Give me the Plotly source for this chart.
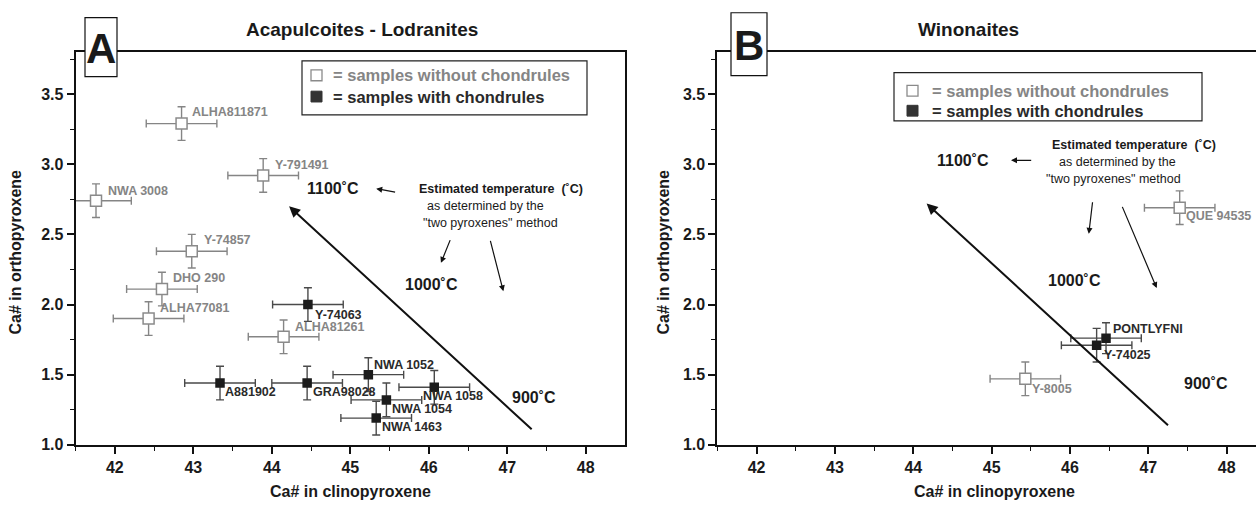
import plotly.graph_objects as go

W, H = 1256, 513

# ---------------- data ----------------
# Panel A: Acapulcoites - Lodranites
a_open_names = ["ALHA811871", "Y-791491", "NWA 3008", "Y-74857", "DHO 290", "ALHA77081", "ALHA81261"]
a_open_x = [42.85, 43.89, 41.76, 42.98, 42.60, 42.43, 44.15]
a_open_y = [3.29, 2.92, 2.74, 2.38, 2.11, 1.90, 1.77]
a_open_ex = [0.45, 0.45, 0.45, 0.45, 0.45, 0.45, 0.45]
a_open_ey = [0.12, 0.12, 0.12, 0.12, 0.12, 0.12, 0.12]

a_fill_names = ["Y-74063", "A881902", "GRA98028", "NWA 1052", "NWA 1058", "NWA 1054", "NWA 1463"]
a_fill_x = [44.46, 43.34, 44.45, 45.23, 46.07, 45.46, 45.33]
a_fill_y = [2.00, 1.44, 1.44, 1.50, 1.41, 1.32, 1.19]
a_fill_ex = [0.45, 0.45, 0.45, 0.45, 0.45, 0.45, 0.45]
a_fill_ey = [0.12, 0.12, 0.12, 0.12, 0.12, 0.12, 0.12]

# Panel B: Winonaites
b_open_names = ["QUE 94535", "Y-8005"]
b_open_x = [47.40, 45.43]
b_open_y = [2.69, 1.47]
b_open_ex = [0.45, 0.45]
b_open_ey = [0.12, 0.12]

b_fill_names = ["PONTLYFNI", "Y-74025"]
b_fill_x = [46.46, 46.34]
b_fill_y = [1.76, 1.71]
b_fill_ex = [0.45, 0.45]
b_fill_ey = [0.11, 0.12]

# isotherm lines (end, arrow tip)
a_line_x = [47.33, 44.22]
a_line_y = [1.10, 2.70]
b_line_x = [47.27, 44.17]
b_line_y = [1.13, 2.72]

x_ticks = [42, 43, 44, 45, 46, 47, 48]
y_ticks = [1.0, 1.5, 2.0, 2.5, 3.0, 3.5]

# ---------------- styles ----------------
FONT = "Liberation Sans, Arial, sans-serif"
GRAY_TXT = "#858585"
DARK_TXT = "#2a2a2a"
OPEN_EB = "#858585"
FILL_EB = "#4a4a4a"

# label offsets in px (dx right, dy down) relative to the point
label_off = {
    "ALHA811871": (8, -12), "Y-791491": (10, -10), "NWA 3008": (10, -10),
    "Y-74857": (10, -11), "DHO 290": (9, -11), "ALHA77081": (9, -11),
    "ALHA81261": (9, -10), "Y-74063": (5, 10), "A881902": (3, 9),
    "GRA98028": (4, 9), "NWA 1052": (4, -10), "NWA 1058": (-13, 9),
    "NWA 1054": (4, 9), "NWA 1463": (4, 9),
    "QUE 94535": (4, 8), "Y-8005": (5, 10), "PONTLYFNI": (5, -9), "Y-74025": (5, 10),
}


def px(x):
    return x / W


def py(y):
    return 1 - y / H


fig = go.Figure()


def add_pts(xs, ys, ex, ey, filled, xa, ya):
    fig.add_trace(go.Scatter(
        x=xs, y=ys, mode="markers", xaxis=xa, yaxis=ya, showlegend=False,
        marker=dict(symbol="square", size=8 if filled else 11,
                    color="#1c1c1c" if filled else "white",
                    line=dict(color="#1c1c1c" if filled else "#8a8a8a", width=1.5)),
        error_x=dict(type="data", array=ex, visible=True, color=FILL_EB if filled else OPEN_EB,
                     thickness=1.4, width=4),
        error_y=dict(type="data", array=ey, visible=True, color=FILL_EB if filled else OPEN_EB,
                     thickness=1.4, width=4),
    ))


add_pts(a_open_x, a_open_y, a_open_ex, a_open_ey, False, "x", "y")
add_pts(a_fill_x, a_fill_y, a_fill_ex, a_fill_ey, True, "x", "y")
add_pts(b_open_x, b_open_y, b_open_ex, b_open_ey, False, "x2", "y2")
add_pts(b_fill_x, b_fill_y, b_fill_ex, b_fill_ey, True, "x2", "y2")

ann = []


def labels(names, xs, ys, color, xr, yr):
    for n, x, y in zip(names, xs, ys):
        dx, dy = label_off[n]
        ann.append(dict(x=x, y=y, xref=xr, yref=yr, text=n, showarrow=False,
                        xanchor="left", yanchor="middle", xshift=dx, yshift=-dy,
                        font=dict(family=FONT, size=12.5, color=color, weight="bold")))


labels(a_open_names, a_open_x, a_open_y, GRAY_TXT, "x", "y")
labels(a_fill_names, a_fill_x, a_fill_y, DARK_TXT, "x", "y")
labels(b_open_names, b_open_x, b_open_y, GRAY_TXT, "x2", "y2")
labels(b_fill_names, b_fill_x, b_fill_y, DARK_TXT, "x2", "y2")

# isotherm arrows
for lx, ly, xr, yr in [(a_line_x, a_line_y, "x", "y"), (b_line_x, b_line_y, "x2", "y2")]:
    ann.append(dict(x=lx[1], y=ly[1], ax=lx[0], ay=ly[0], xref=xr, yref=yr, axref=xr, ayref=yr,
                    text="", showarrow=True, arrowhead=2, arrowsize=1.1, arrowwidth=2,
                    arrowcolor="#111", standoff=0))


def txt(x, y, s, xr, yr, size=15, bold=True, anchor="center", color="#1a1a1a"):
    ann.append(dict(x=x, y=y, xref=xr, yref=yr, text=s, showarrow=False, xanchor=anchor,
                    yanchor="middle",
                    font=dict(family=FONT, size=size, color=color, weight="bold" if bold else "normal")))


def arrow(x0, y0, x1, y1, xr, yr):
    ann.append(dict(x=x1, y=y1, ax=x0, ay=y0, xref=xr, yref=yr, axref=xr, ayref=yr,
                    text="", showarrow=True, arrowhead=2, arrowsize=1, arrowwidth=1.2,
                    arrowcolor="#111", standoff=0))


# Panel A temperature annotations
txt(44.78, 2.83, "1100˚C", "x", "y", size=16)
txt(46.04, 2.14, "1000˚C", "x", "y", size=16)
txt(47.34, 1.34, "900˚C", "x", "y", size=16)
txt(45.85, 2.826, "Estimated temperature  (˚C)", "x", "y", size=12.5, anchor="left")
txt(45.95, 2.70, "as determined by the", "x", "y", size=12.5, bold=False, anchor="left")
txt(45.90, 2.58, "\"two pyroxenes\" method", "x", "y", size=12.5, bold=False, anchor="left")
arrow(45.59, 2.80, 45.33, 2.826, "x", "y")
arrow(46.28, 2.47, 46.155, 2.297, "x", "y")
arrow(46.78, 2.464, 46.95, 2.094, "x", "y")

# Panel B temperature annotations
txt(44.64, 3.03, "1100˚C", "x2", "y2", size=16)
txt(46.06, 2.17, "1000˚C", "x2", "y2", size=16)
txt(47.74, 1.44, "900˚C", "x2", "y2", size=16)
txt(45.745, 3.137, "Estimated temperature  (˚C)", "x2", "y2", size=12.5, anchor="left")
txt(45.835, 3.016, "as determined by the", "x2", "y2", size=12.5, bold=False, anchor="left")
txt(45.668, 2.897, "\"two pyroxenes\" method", "x2", "y2", size=12.5, bold=False, anchor="left")
arrow(45.524, 3.028, 45.247, 3.028, "x2", "y2")
arrow(46.29, 2.74, 46.24, 2.504, "x2", "y2")
arrow(46.66, 2.707, 47.107, 2.117, "x2", "y2")

# Titles, axis titles
txt(px(362), py(30), "Acapulcoites - Lodranites", "paper", "paper", size=19)
txt(px(968), py(30), "Winonaites", "paper", "paper", size=19)
for cx in (350, 994):
    txt(px(cx), py(500), "Ca# in clinopyroxene", "paper", "paper", size=16)
for cx in (15, 663):
    ann.append(dict(x=px(cx), y=py(257), xref="paper", yref="paper", text="Ca# in orthopyroxene",
                    showarrow=False, textangle=-90, xanchor="center", yanchor="middle",
                    font=dict(family=FONT, size=16, color="#1a1a1a", weight="bold")))

shapes = []
# panel letter boxes
for (x0, x1, y0, y1, letter) in [(85, 117, 18, 78, "A"), (731, 767, 13, 77, "B")]:
    shapes.append(dict(type="rect", xref="paper", yref="paper", x0=px(x0), x1=px(x1), y0=py(y1), y1=py(y0),
                       line=dict(color="#111", width=1.2), fillcolor="white", layer="above"))
    txt(px((x0 + x1) / 2), py((y0 + y1) / 2 + 1), letter, "paper", "paper", size=42)

# legend boxes
for (bx0, bx1, by0, by1, l1, l2, sx, tx, fs) in [
        (302, 587, 62, 117, 76.7, 98.3, 311, 331, 16.5),
        (894, 1202, 74, 123, 92.3, 112.7, 907, 930, 16.5)]:
    shapes.append(dict(type="rect", xref="paper", yref="paper", x0=px(bx0), x1=px(bx1), y0=py(by1), y1=py(by0),
                       line=dict(color="#222", width=1.2), fillcolor="white", layer="below"))
    shapes.append(dict(type="rect", xref="paper", yref="paper", x0=px(sx), x1=px(sx + 11),
                       y0=py(l1 + 5.5), y1=py(l1 - 5.5), line=dict(color="#8a8a8a", width=1.3),
                       fillcolor="white"))
    shapes.append(dict(type="rect", xref="paper", yref="paper", x0=px(sx), x1=px(sx + 11),
                       y0=py(l2 + 5.5), y1=py(l2 - 5.5), line=dict(color="#333", width=1),
                       fillcolor="#333"))
    txt(px(tx), py(l1), "= samples without chondrules", "paper", "paper", size=fs, anchor="left", color=GRAY_TXT)
    txt(px(tx), py(l2), "= samples with chondrules", "paper", "paper", size=fs, anchor="left", color=DARK_TXT)

axis_common = dict(showgrid=False, zeroline=False, showline=True, linecolor="#111", linewidth=2,
                   ticks="outside", ticklen=7, tickwidth=1.6, tickcolor="#111",
                   tickfont=dict(family=FONT, size=16, color="#1a1a1a", weight="bold"))

xa = dict(axis_common, range=[41.5, 48.5], tickvals=x_ticks, mirror=True,
          minor=dict(tickvals=[41.5, 42.5, 43.5, 44.5, 45.5, 46.5, 47.5], ticks="outside", ticklen=4,
                     tickwidth=1.4, tickcolor="#111"))
ya_minor = dict(tickvals=[1.25, 1.75, 2.25, 2.75, 3.25, 3.75], ticks="outside", ticklen=4,
                tickwidth=1.4, tickcolor="#111")
ya = dict(axis_common, range=[1.0, 3.8], tickvals=y_ticks, tickformat=".1f", mirror=True, minor=ya_minor)

fig.update_layout(
    width=W, height=H,
    margin=dict(l=0, r=0, t=0, b=0),
    paper_bgcolor="white", plot_bgcolor="white",
    showlegend=False,
    xaxis=dict(xa, domain=[75.6 / W, 625 / W], anchor="y"),
    yaxis=dict(ya, domain=[1 - 452.7 / H, 1 - 53 / H], anchor="x"),
    xaxis2=dict(xa, domain=[717.4 / W, 1.0], range=[41.5, 48.374], anchor="y2",
                minor=dict(tickvals=[41.5, 42.5, 43.5, 44.5, 45.5, 46.5, 47.5], ticks="outside", ticklen=4,
                           tickwidth=1.4, tickcolor="#111")),
    yaxis2=dict(ya, domain=[1 - 452.7 / H, 1 - 53 / H], anchor="x2", mirror=False),
    annotations=ann,
    shapes=shapes,
)

fig.write_html("out.html")
